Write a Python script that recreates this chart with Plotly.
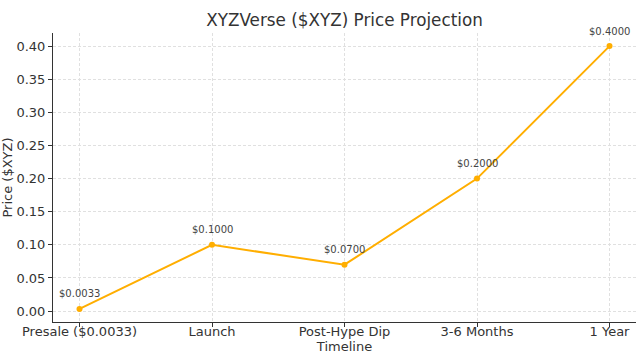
import plotly.graph_objects as go

categories = ["Presale ($0.0033)", "Launch", "Post-Hype Dip", "3-6 Months", "1 Year"]
prices = [0.0033, 0.1, 0.07, 0.2, 0.4]
labels = ["$0.0033", "$0.1000", "$0.0700", "$0.2000", "$0.4000"]
y_ticks = [0.0, 0.05, 0.10, 0.15, 0.20, 0.25, 0.30, 0.35, 0.40]

FONT = "DejaVu Sans, Arial, sans-serif"
TXT = "#333333"
LINE = "#FFAE00"

xs = list(range(len(categories)))

fig = go.Figure()
fig.add_trace(go.Scatter(
    x=xs, y=prices, mode="lines+markers",
    line=dict(color=LINE, width=2),
    marker=dict(color=LINE, size=6),
    showlegend=False,
))

for x, y, t in zip(xs, prices, labels):
    fig.add_annotation(x=x, y=y, text=t, showarrow=False, yshift=15,
                       font=dict(family=FONT, size=10, color="#444444"))

grid = dict(showgrid=True, gridcolor="#e0e0e0", griddash="3px,2px", gridwidth=1)

fig.update_layout(
    width=640, height=357,
    margin=dict(l=53, r=4, t=33, b=35),
    paper_bgcolor="white", plot_bgcolor="white",
    font=dict(family=FONT, size=13, color=TXT),
    title=dict(text="XYZVerse ($XYZ) Price Projection", x=0.5, xref="paper",
               xanchor="center", y=0.945, yanchor="middle",
               font=dict(size=16.8, color=TXT)),
    xaxis=dict(
        tickmode="array", tickvals=xs, ticktext=categories,
        range=[-0.2, 4.2], zeroline=False, automargin=False,
        showline=True, linecolor="#333333", linewidth=1,
        ticks="outside", ticklen=4, tickcolor="#333333",
        ticklabelstandoff=-7,
        title=dict(text="Timeline", standoff=0, font=dict(size=13)),
        **grid,
    ),
    yaxis=dict(
        tickmode="array", tickvals=y_ticks, tickformat=".2f",
        range=[-0.0165, 0.4198], zeroline=False, automargin=False,
        showline=True, linecolor="#333333", linewidth=1,
        ticks="outside", ticklen=4, tickcolor="#333333",
        title=dict(text="Price ($XYZ)", standoff=4, font=dict(size=13)),
        **grid,
    ),
)

fig.write_html("out.html", config={"displayModeBar": False},
               post_script="document.body.style.margin='0';")
